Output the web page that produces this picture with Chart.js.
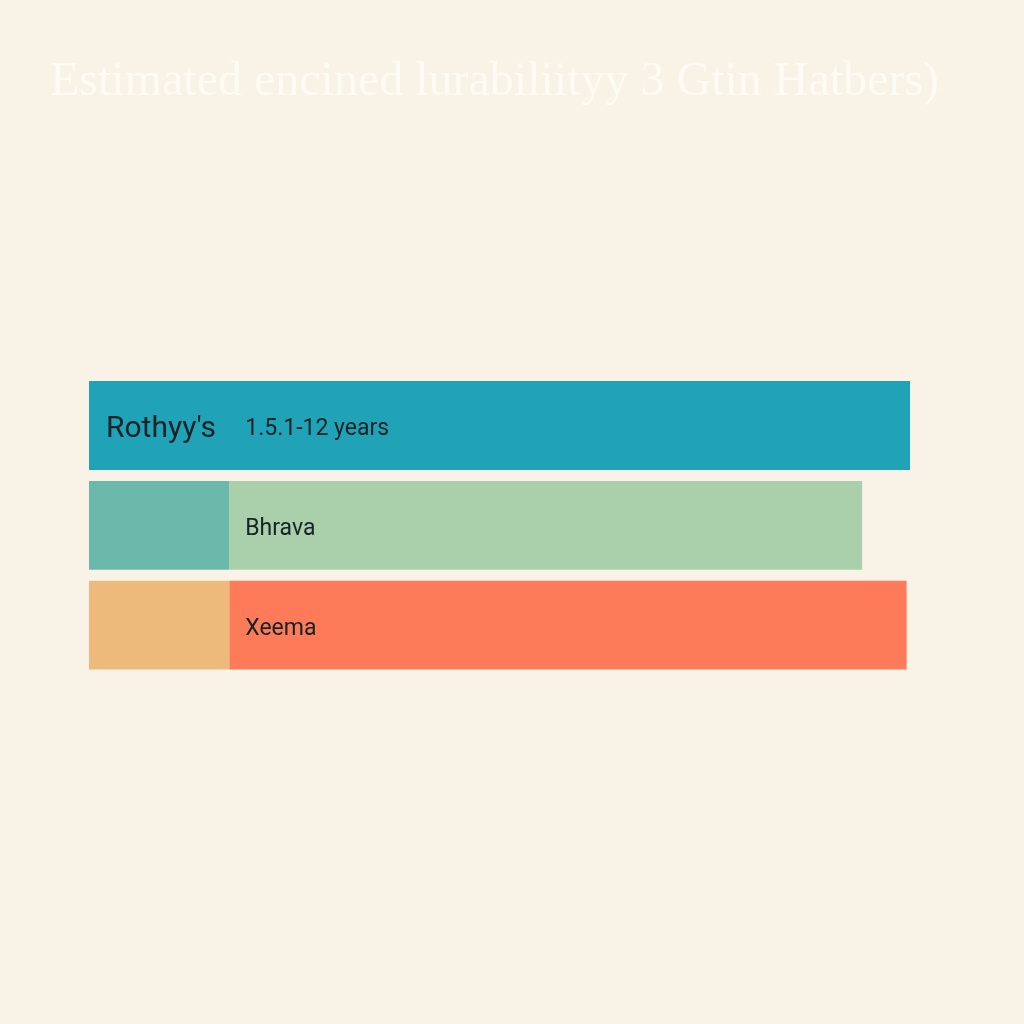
<!DOCTYPE html>
<html>
<head>
<meta charset="utf-8">
<script src="https://cdn.jsdelivr.net/npm/chart.js@4.4.1/dist/chart.umd.min.js"></script>
<style>
  html, body { margin: 0; padding: 0; background: #f8f2e7; }
  #wrap { width: 1024px; height: 1024px; }
</style>
</head>
<body>
<div id="wrap"><canvas id="durability_chart" width="1024" height="1024"></canvas></div>
<script>
// chart data
const brands = ["Rothyy's", "Bhrava", "Xeema"];
const firstPart = [12, 2.05, 2.05];
const secondPart = [0, 9.25, 9.9];
const notes = ["1.5.1-12 years", "", ""];
const firstColors = ['#21a3b7', '#6bb9aa', '#edba7c'];
const secondColors = ['#21a3b7', '#a9d0aa', '#fd7b59'];
const titleText = 'Estimated encined lurabiliityy 3 Gtin Hatbers)';

// draw the names inside the bars
const barText = {
    id: 'barText',
    afterDatasetsDraw(chart) {
        const ctx = chart.ctx;
        const x = chart.scales.x;
        const y = chart.scales.y;
        ctx.save();
        ctx.fillStyle = '#152228';
        ctx.textBaseline = 'middle';
        ctx.textAlign = 'left';
        for (let i = 0; i < brands.length; i++) {
            const yc = y.getPixelForValue(i) + 4;
            const splitX = x.getPixelForValue(firstPart[1]) + 16;
            if (notes[i]) {
                ctx.font = '30px Roboto';
                ctx.fillText(brands[i], x.getPixelForValue(0) + 17, yc);
                ctx.font = '23px Roboto';
                ctx.fillText(notes[i], splitX, yc);
            } else {
                ctx.font = '23px Roboto';
                ctx.fillText(brands[i], splitX, yc);
            }
        }
        ctx.restore();
    }
};

const ctx = document.getElementById('durability_chart').getContext('2d');
const durability_chart = new Chart(ctx, {
    type: 'bar',
    data: {
        labels: brands,
        datasets: [{
            label: 'part 1',
            data: firstPart,
            backgroundColor: firstColors,
            borderWidth: 0
        }, {
            label: 'part 2',
            data: secondPart,
            backgroundColor: secondColors,
            borderWidth: 0
        }]
    },
    options: {
        indexAxis: 'y',
        responsive: false,
        animation: false,
        layout: {
            padding: { left: 50, right: 50, top: 0, bottom: 349 }
        },
        datasets: {
            bar: { barPercentage: 0.89, categoryPercentage: 1 }
        },
        scales: {
            x: { stacked: true, display: false, min: -0.57, max: 12.935 },
            y: { stacked: true, display: false }
        },
        plugins: {
            legend: { display: false },
            tooltip: { enabled: false },
            title: {
                display: true,
                text: titleText,
                align: 'start',
                color: '#fefbf4',
                font: { family: 'Liberation Serif', size: 48, weight: 'normal' },
                padding: { top: 54, bottom: 264 }
            }
        }
    },
    plugins: [barText]
});
</script>
</body>
</html>
